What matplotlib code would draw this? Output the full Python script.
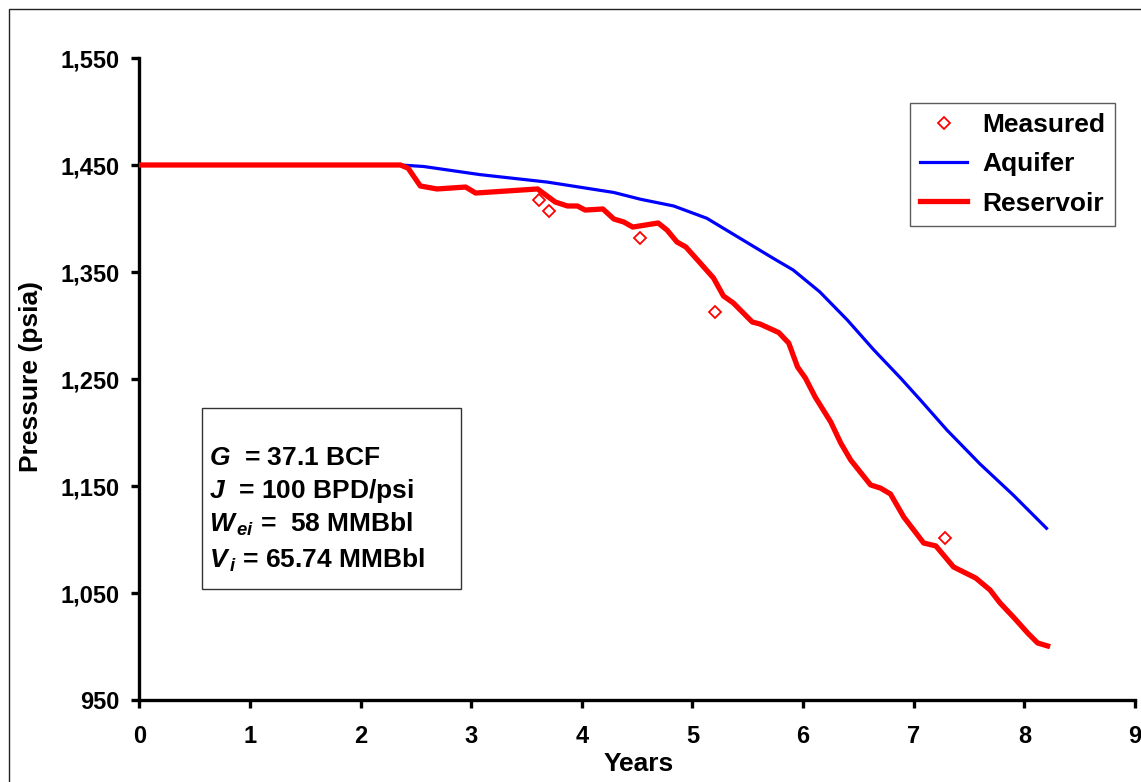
import numpy as np
import matplotlib.pyplot as plt
from matplotlib.patches import Rectangle
from matplotlib.ticker import FuncFormatter

plt.rcParams['font.family'] = ['Liberation Sans', 'DejaVu Sans']
plt.rcParams['font.weight'] = 'bold'
plt.rcParams['mathtext.fontset'] = 'custom'
plt.rcParams['mathtext.rm'] = 'Liberation Sans:bold'
plt.rcParams['mathtext.it'] = 'Liberation Sans:italic:bold'
plt.rcParams['mathtext.bf'] = 'Liberation Sans:bold'

# reservoir pressure (red)
t_res = [0, 2.36, 2.43, 2.54, 2.69, 2.95, 3.04, 3.60, 3.76, 3.87, 3.96, 4.03, 4.19, 4.29,
         4.38, 4.46, 4.69, 4.77, 4.86, 4.94, 5.07, 5.19, 5.28, 5.37, 5.54, 5.61, 5.78, 5.87,
         5.95, 6.02, 6.11, 6.25, 6.34, 6.43, 6.61, 6.70, 6.79, 6.91, 7.09, 7.20, 7.36, 7.56,
         7.69, 7.78, 7.90, 8.03, 8.12, 8.21]
p_res = [1450, 1450, 1447, 1430.4, 1427.6, 1429.4, 1423.8, 1427.6, 1415.4, 1411.7, 1411.7,
         1407.9, 1408.9, 1399.5, 1396.7, 1392, 1395.8, 1389.2, 1378, 1373.4, 1358.4, 1344.4,
         1327.6, 1321, 1303.3, 1301.4, 1293.4, 1283.6, 1261.2, 1251, 1233, 1209.8, 1190.2,
         1174.3, 1151, 1148, 1142.5, 1121, 1096.7, 1094, 1074.3, 1064, 1052.8, 1040.7,
         1027.6, 1012.6, 1003.3, 1000.5]

# aquifer pressure (blue)
t_aq = [0, 2.36, 2.57, 3.08, 3.69, 4.29, 4.53, 4.83, 5.13, 5.43, 5.73, 5.91, 6.15, 6.40,
        6.64, 6.88, 7.06, 7.30, 7.60, 7.90, 8.20]
p_aq = [1450, 1450, 1448.6, 1441, 1434, 1424.3, 1418, 1411.7, 1400.2, 1381.5, 1362.8, 1351.9,
        1331.5, 1305.1, 1277.1, 1251, 1230.4, 1202.3, 1170.5, 1141.5, 1110.5]

# measured
t_meas = [3.61, 3.70, 4.53, 5.20, 7.28]
p_meas = [1417.3, 1407, 1381.8, 1312.9, 1101.7]

W, H = 1141, 782
fig = plt.figure(figsize=(W / 100, H / 100), dpi=100)
ax = fig.add_axes([139.3 / W, 1 - 700 / H, (1135 - 139.3) / W, (700 - 58) / H])

ax.plot(t_aq, p_aq, color='#0000ff', lw=2.3, label='Aquifer', zorder=2)
ax.plot(t_res, p_res, color='#ff0000', lw=3.8, label='Reservoir', zorder=3)
ax.plot(t_meas, p_meas, ls='none', marker='D', ms=6.6, mfc='none', mec='#ff0000', mew=1.3,
        label='Measured', zorder=4)

ax.set_xlim(0, 9)
ax.set_ylim(950, 1550)
ax.set_xticks(range(0, 10))
ax.set_yticks(range(950, 1551, 100))
ax.yaxis.set_major_formatter(FuncFormatter(lambda v, p: '{:,.0f}'.format(v)))
for s in ['top', 'right']:
    ax.spines[s].set_visible(False)
for s in ['left', 'bottom']:
    ax.spines[s].set_linewidth(2.4)
ax.tick_params(direction='out', length=6, width=2.4, labelsize=17, pad=8)
ax.tick_params(axis='x', pad=12)
for lab in ax.get_xticklabels() + ax.get_yticklabels():
    lab.set_fontweight('bold')

fig.text(639 / W, 1 - 764 / H, 'Years', ha='center', va='center', fontsize=19, fontweight='bold')
fig.text(31.5 / W, 1 - 377 / H, 'Pressure (psia)', ha='center', va='center', rotation=90,
         fontsize=19, fontweight='bold')

h, l = ax.get_legend_handles_labels()
order = [2, 0, 1]
leg = ax.legend([h[i] for i in order], [l[i] for i in order], loc='upper right',
                bbox_to_anchor=(1115 / W, 1 - 103 / H), bbox_transform=fig.transFigure,
                fancybox=False, frameon=True, edgecolor='#333333', fontsize=19,
                handlelength=1.8, handletextpad=0.55, borderpad=0.38, labelspacing=0.58,
                borderaxespad=0)
leg.get_frame().set_linewidth(1.0)
for t in leg.get_texts():
    t.set_fontweight('bold')

# parameter box
fig.patches.append(Rectangle((202 / W, 1 - 589 / H), (461 - 202) / W, (589 - 408) / H,
                             transform=fig.transFigure, fill=False, edgecolor='#333333', lw=1.0))
box_lines = [r'$G$  = 37.1 BCF', r'$J$  = 100 BPD/psi', r'$W_{\,ei}$ =  58 MMBbl',
             r'$V_{\,i}$ = 65.74 MMBbl']
baselines = [465, 498, 532, 568]
for txt, yb in zip(box_lines, baselines):
    fig.text(209 / W, 1 - yb / H, txt, ha='left', va='baseline', fontsize=19, fontweight='bold')

# outer frame
fig.patches.append(Rectangle((8.5 / W, -0.1), 1.2, 1.1 - 9 / H, transform=fig.transFigure,
                             fill=False, edgecolor='#222222', lw=1.0))

fig.savefig('out.png', dpi=100)
